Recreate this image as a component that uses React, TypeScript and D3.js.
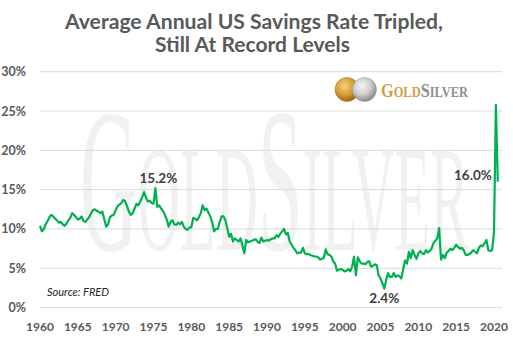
import React from "react";
import * as d3 from "d3";

// Quarterly US personal saving rate (%), starting 1960 Q1
const START_YEAR = 1960;
const rate1960s = [
  10.4, 9.7, 10.0, 10.6, 11.0, 11.5, 11.8, 11.6, 11.3, 11.1, 10.8, 10.9,
  10.6, 10.4, 10.7, 11.1, 11.4, 12.0, 11.8, 11.5, 11.2, 11.3, 11.6, 11.0,
  10.9, 11.2, 11.5, 12.0, 12.4, 12.5, 12.3, 12.2, 12.0, 12.2, 11.2, 10.3,
  10.6, 11.5, 11.7, 11.8,
];
const rate1970s = [
  12.4, 12.9, 13.1, 13.3, 13.7, 13.5, 12.9, 12.2, 11.8, 12.0, 12.6, 13.2,
  13.0, 13.5, 14.0, 14.7, 14.0, 13.5, 13.6, 13.3, 13.2, 15.2, 12.8, 13.0,
  12.6, 12.3, 11.8, 11.2, 10.3, 10.9, 11.1, 10.6, 10.5, 10.8, 10.6, 10.9,
  10.3, 10.0, 9.9, 10.2,
];
const rate1980s = [
  10.2, 11.4, 11.3, 11.1, 11.5, 12.0, 13.0, 12.4, 12.6, 12.1, 11.6, 10.9,
  9.7, 10.0, 10.0, 10.9, 11.6, 11.6, 11.1, 10.1, 9.0, 9.4, 8.4, 8.8,
  8.6, 8.4, 8.8, 7.9, 6.9, 8.6, 8.3, 8.4, 8.5, 8.6, 8.7, 8.4,
  8.2, 8.9, 8.4, 8.5,
];
const rate1990s = [
  8.6, 8.5, 8.7, 8.8, 8.8, 9.2, 9.0, 9.4, 9.7, 10.0, 9.3, 9.5,
  8.4, 8.0, 7.6, 7.3, 6.9, 7.0, 7.0, 7.6, 6.9, 6.8, 6.8, 6.7,
  6.6, 6.5, 6.5, 6.4, 6.1, 6.2, 6.3, 7.4, 6.8, 6.7, 6.5, 5.9,
  5.6, 4.7, 4.8, 4.9,
];
const rate2000s = [
  4.8, 4.6, 4.7, 4.9, 4.6, 5.2, 6.5, 4.1, 6.4, 5.9, 5.6, 5.6,
  5.5, 5.8, 5.9, 5.2, 5.3, 5.5, 5.4, 4.1, 3.7, 3.1, 2.4, 3.5,
  4.4, 3.9, 3.9, 4.4, 3.9, 4.1, 4.0, 3.7, 4.9, 6.0, 5.6, 7.1,
  6.3, 7.3, 6.7, 6.2,
];
const rate2010s = [
  6.9, 7.2, 6.9, 6.8, 7.3, 7.0, 7.2, 7.5, 8.2, 8.5, 8.8, 10.1,
  6.1, 6.7, 6.3, 7.0, 7.2, 7.5, 7.3, 7.6, 8.0, 7.7, 7.5, 7.6,
  7.3, 6.7, 6.7, 6.8, 7.0, 7.3, 7.1, 6.9, 7.6, 7.9, 7.8, 8.2,
  8.6, 7.3, 7.2, 7.3,
];
const rate2020s = [9.6, 25.8, 16.0];

const yearTicks = [1960, 1965, 1970, 1975, 1980, 1985, 1990, 1995, 2000, 2005, 2010, 2015, 2020];
const pctTicks = [0, 5, 10, 15, 20, 25, 30];

const annotationLabels = ["15.2%", "2.4%", "16.0%"];
const annotationTimes = [1975.25, 2005.5, 2020.5];
const annotationValues = [15.2, 2.4, 16.0];

const titleLines = ["Average Annual US Savings Rate Tripled,", "Still At Record Levels"];
const sourceText = "Source: FRED";

const quarterlyRate = [
  ...rate1960s, ...rate1970s, ...rate1980s, ...rate1990s, ...rate2000s, ...rate2010s, ...rate2020s,
];

export default function App() {
  const W = 513, H = 339;
  const x = d3.scaleLinear().domain([1960, 2020]).range([40, 494]);
  const y = d3.scaleLinear().domain([0, 30]).range([307.6, 71.7]);
  const points = quarterlyRate.map((v, i) => ({ t: START_YEAR + i / 4, v }));
  const line = d3.line<{ t: number; v: number }>().x((d) => x(d.t)).y((d) => y(d.v));
  const gridRight = x(2021.06);
  const textCol = "#595959";
  const annOffsets = [
    { dx: 3, dy: -5, anchor: "middle" },
    { dx: 0, dy: 14.5, anchor: "middle" },
    { dx: -6, dy: -1.5, anchor: "end" },
  ];
  const serif = "'Liberation Serif', 'DejaVu Serif', serif";

  return (
    <svg width={W} height={H} style={{ position: "absolute", left: 0, top: 0, background: "#fff" }}>
      <defs>
        <radialGradient id="goldCoin" cx="40%" cy="35%" r="70%">
          <stop offset="0%" stopColor="#f6d27a" />
          <stop offset="55%" stopColor="#d49a33" />
          <stop offset="100%" stopColor="#8f5d12" />
        </radialGradient>
        <radialGradient id="silverCoin" cx="40%" cy="35%" r="70%">
          <stop offset="0%" stopColor="#f7f7f7" />
          <stop offset="55%" stopColor="#c9c9c9" />
          <stop offset="100%" stopColor="#7d7d7d" />
        </radialGradient>
      </defs>
      <rect x={0} y={0} width={W} height={H} fill="#fff" />

      {/* watermark */}
      <g transform="translate(80,250) scale(0.39,1)">
        <text x={0} y={0} fontFamily={serif} fill="#f1f1f1">
          <tspan fontSize={205}>G</tspan>
          <tspan fontSize={150}>OLD</tspan>
          <tspan fontSize={205}>S</tspan>
          <tspan fontSize={150}>ILVER</tspan>
        </text>
      </g>

      {/* gridlines */}
      {pctTicks.map((p) => (
        <line key={p} x1={40} x2={gridRight} y1={y(p)} y2={y(p)} stroke="#d9d9d9" strokeWidth={1} />
      ))}

      {/* y labels */}
      {pctTicks.map((p) => (
        <text
          key={p}
          x={26}
          y={y(p) + 4.5}
          textAnchor="end"
          fontFamily="Lato, sans-serif"
          fontWeight={700}
          fontSize={12.5}
          fill={textCol}
        >
          {p}%
        </text>
      ))}

      {/* x labels */}
      {yearTicks.map((yr) => (
        <text
          key={yr}
          x={x(yr)}
          y={331}
          textAnchor="middle"
          fontFamily="Lato, sans-serif"
          fontWeight={700}
          fontSize={12}
          fill={textCol}
        >
          {yr}
        </text>
      ))}

      {/* logo */}
      <circle cx={347} cy={89.5} r={12} fill="url(#goldCoin)" stroke="#b07d25" strokeWidth={0.6} />
      <circle cx={364.5} cy={89.5} r={12} fill="url(#silverCoin)" stroke="#9a9a9a" strokeWidth={0.6} />
      <text
        x={381}
        y={96.5}
        fontFamily={serif}
        fontWeight={700}
        textLength={87}
        lengthAdjust="spacingAndGlyphs"
      >
        <tspan fill="#cf9f45" fontSize={19}>G</tspan>
        <tspan fill="#cf9f45" fontSize={14.5}>OLD</tspan>
        <tspan fill="#8f8f8f" fontSize={19}>S</tspan>
        <tspan fill="#8f8f8f" fontSize={14.5}>ILVER</tspan>
      </text>

      {/* data line */}
      <path d={line(points) || ""} fill="none" stroke="#00b050" strokeWidth={2.2} strokeLinejoin="round" />

      {/* annotations */}
      {annotationLabels.map((lab, i) => (
        <text
          key={lab}
          x={x(annotationTimes[i]) + annOffsets[i].dx}
          y={y(annotationValues[i]) + annOffsets[i].dy}
          textAnchor={annOffsets[i].anchor as any}
          fontFamily="Lato, sans-serif"
          fontWeight={700}
          fontSize={13.5}
          fill="#404040"
        >
          {lab}
        </text>
      ))}

      {/* source */}
      <text x={47} y={295.5} fontFamily="Lato, sans-serif" fontStyle="italic" fontSize={11} fill="#262626">
        {sourceText}
      </text>

      {/* title */}
      <text
        x={254}
        y={29.3}
        textAnchor="middle"
        fontFamily="Lato, sans-serif"
        fontWeight={700}
        fontSize={21}
        fill={textCol}
        textLength={378}
        lengthAdjust="spacingAndGlyphs"
      >
        {titleLines[0]}
      </text>
      <text
        x={252.5}
        y={51.7}
        textAnchor="middle"
        fontFamily="Lato, sans-serif"
        fontWeight={700}
        fontSize={21}
        fill={textCol}
        textLength={195}
        lengthAdjust="spacingAndGlyphs"
      >
        {titleLines[1]}
      </text>
    </svg>
  );
}
